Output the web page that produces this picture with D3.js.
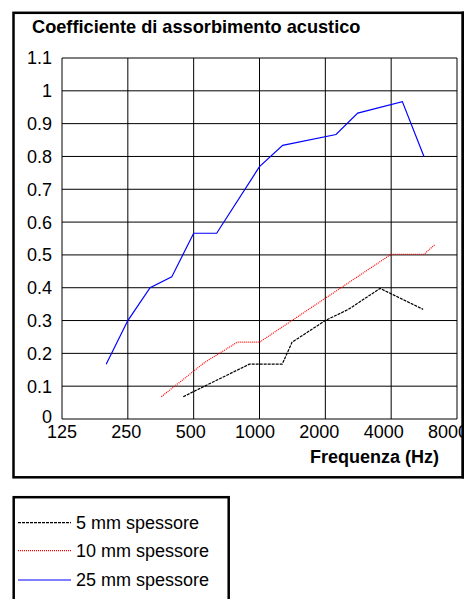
<!DOCTYPE html>
<html>
<head>
<meta charset="utf-8">
<script src="https://cdn.jsdelivr.net/npm/d3@7"></script>
<style>
  body { margin: 0; background: #fff; }
  svg { display: block; font-family: "Liberation Sans", Arial, sans-serif; }
</style>
</head>
<body>
<svg id="chart" width="464" height="599"></svg>
<script>
// tick values
var freqTicks = [125, 250, 500, 1000, 2000, 4000, 8000];
var coefTicks = [0, 0.1, 0.2, 0.3, 0.4, 0.5, 0.6, 0.7, 0.8, 0.9, 1, 1.1];

// series (frequency in Hz, coefficient)
var freq5 = [448, 898, 1270, 1409, 2000, 2550, 3560, 5600];
var coef5 = [0.068, 0.167, 0.167, 0.234, 0.30, 0.334, 0.398, 0.334];

var freq10 = [356, 563, 792, 1000, 4000, 5650, 6350];
var coef10 = [0.068, 0.173, 0.234, 0.234, 0.502, 0.502, 0.532];

var freq25 = [199, 250, 316, 397, 500, 637, 1000, 1276, 2238, 2813, 4500, 5650];
var coef25 = [0.167, 0.30, 0.40, 0.433, 0.566, 0.566, 0.769, 0.834, 0.867, 0.932, 0.967, 0.80];

var seriesNames = ["5 mm spessore", "10 mm spessore", "25 mm spessore"];

var series = [
  { name: seriesNames[0], f: freq5, v: coef5, color: "#000", dash: "3,1" },
  { name: seriesNames[1], f: freq10, v: coef10, color: "#ff0000", dash: "1,1" },
  { name: seriesNames[2], f: freq25, v: coef25, color: "#0000ff", dash: null }
];

var svg = d3.select("#chart");

var x = d3.scaleLog().base(2).domain([125, 8000]).range([62, 457]);
// the frequency labels sit a little left of their grid lines, more so to the right
var xLabel = d3.scaleLog().base(2).domain([125, 8000]).range([62, 448]);
var y = d3.scaleLinear().domain([0, 1.1]).range([419, 58]);

// outer frame of the chart
svg.append("rect")
  .attr("x", 13.5).attr("y", 12.8)
  .attr("width", 449.3).attr("height", 464.5)
  .attr("fill", "#fff")
  .attr("stroke", "#000").attr("stroke-width", 2.5);

svg.append("text")
  .attr("x", 32).attr("y", 33)
  .style("font-size", "18.2px").style("font-weight", "bold")
  .text("Coefficiente di assorbimento acustico");

// grid lines
svg.append("g").selectAll("line")
  .data(coefTicks)
  .enter().append("line")
    .attr("x1", 62).attr("x2", 457)
    .attr("y1", function(d) { return y(d); })
    .attr("y2", function(d) { return y(d); })
    .attr("stroke", "#000");

svg.append("g").selectAll("line")
  .data(freqTicks)
  .enter().append("line")
    .attr("y1", 58).attr("y2", 419)
    .attr("x1", function(d) { return x(d); })
    .attr("x2", function(d) { return x(d); })
    .attr("stroke", "#000");

// tick labels
svg.append("g").selectAll("text")
  .data(coefTicks)
  .enter().append("text")
    .attr("x", 52)
    .attr("y", function(d) { return y(d); })
    .attr("dy", function(d) { return d === 0 ? "0.2em" : "0.36em"; })
    .attr("text-anchor", "end")
    .style("font-size", "18px")
    .text(function(d) { return d; });

svg.append("g").selectAll("text")
  .data(freqTicks)
  .enter().append("text")
    .attr("x", function(d) { return xLabel(d); })
    .attr("y", 438)
    .attr("text-anchor", "middle")
    .style("font-size", "18px")
    .text(function(d) { return d; });

svg.append("text")
  .attr("x", 439).attr("y", 463)
  .attr("text-anchor", "end")
  .style("font-size", "18px").style("font-weight", "bold")
  .text("Frequenza (Hz)");

// lines
var line = d3.line()
  .x(function(d) { return x(d[0]); })
  .y(function(d) { return y(d[1]); });

svg.append("g").selectAll("path")
  .data(series)
  .enter().append("path")
    .attr("d", function(s) { return line(d3.zip(s.f, s.v)); })
    .attr("fill", "none")
    .attr("stroke", function(s) { return s.color; })
    .attr("stroke-width", 1.2)
    .attr("stroke-dasharray", function(s) { return s.dash; });

// right edge of frame again so the clipped 8000 sits under it
svg.append("line")
  .attr("x1", 462.8).attr("x2", 462.8)
  .attr("y1", 11.5).attr("y2", 478.5)
  .attr("stroke", "#000").attr("stroke-width", 2.5);

// legend
svg.append("rect")
  .attr("x", 13.7).attr("y", 497.2)
  .attr("width", 215).attr("height", 120)
  .attr("fill", "#fff")
  .attr("stroke", "#000").attr("stroke-width", 2.5);

var legendY = [522.7, 550.7, 580];

var item = svg.append("g").selectAll("g")
  .data(series)
  .enter().append("g")
    .attr("transform", function(s, i) { return "translate(0," + legendY[i] + ")"; });

item.append("line")
  .attr("x1", 18).attr("x2", 71)
  .attr("stroke", function(s) { return s.color; })
  .attr("stroke-width", 1.2)
  .attr("stroke-dasharray", function(s) { return s.dash; });

item.append("text")
  .attr("x", 76)
  .attr("dy", "0.35em")
  .style("font-size", "18px")
  .text(function(s) { return s.name; });
</script>
</body>
</html>
